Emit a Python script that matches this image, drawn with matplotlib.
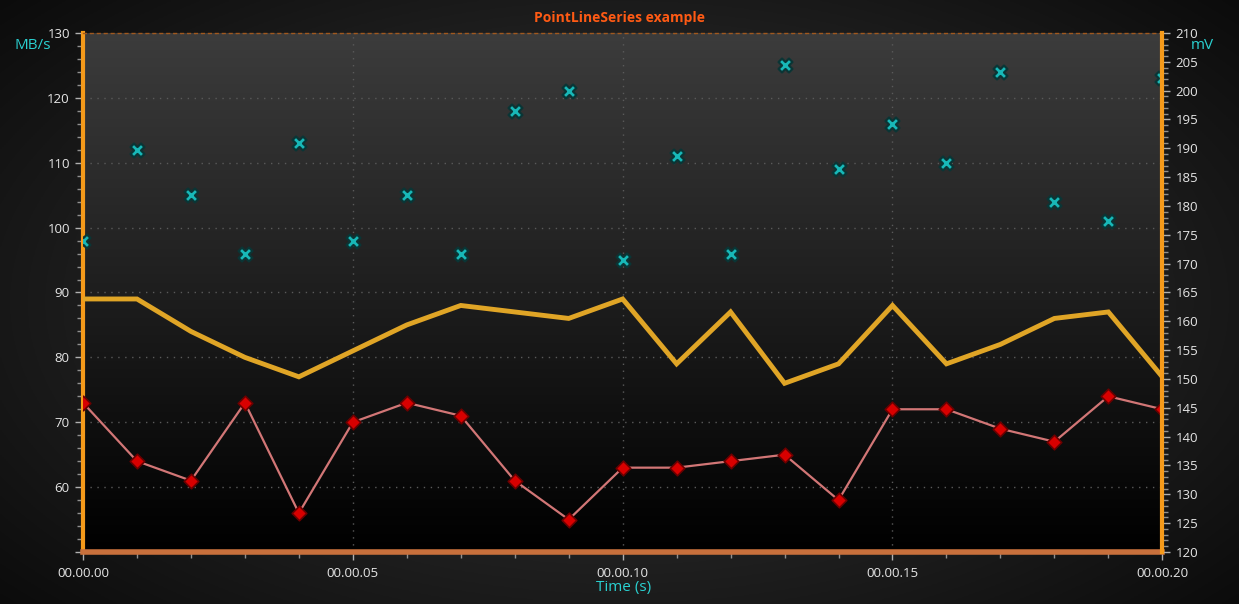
import numpy as np
import matplotlib
matplotlib.use("Agg")
import matplotlib.pyplot as plt
from matplotlib.ticker import MultipleLocator, FuncFormatter

# data (x in seconds, y in MB/s on the left axis)
times = [i / 100 for i in range(21)]
cross_vals = [98, 112, 105, 96, 113, 98, 105, 96, 118, 121, 95, 111, 96, 125, 109, 116, 110, 124, 104, 101, 123]
yellow_vals = [89, 89, 84, 80, 77, 81, 85, 88, 87, 86, 89, 79, 87, 76, 79, 88, 79, 82, 86, 87, 77]
red_vals = [73, 64, 61, 73, 56, 70, 73, 71, 61, 55, 63, 63, 64, 65, 58, 72, 72, 69, 67, 74, 72]

x_range = (0.0, 0.20)
left_range = (50, 130)
right_range = (120, 210)

CYAN = "#2ad0d0"
ORANGE = "#f59a1a"
TXT = "#e6e6e6"

plt.rcParams['font.family'] = ['Open Sans', 'DejaVu Sans']

fig = plt.figure(figsize=(12.39, 6.04), dpi=100)

# radial background for the whole figure
bg = fig.add_axes([0, 0, 1, 1], zorder=-10)
yy, xx = np.mgrid[-1:1:300j, -1:1:600j]
r = np.sqrt(xx ** 2 + (yy * 0.9) ** 2)
shade = 0.03 + 0.20 * np.clip(1 - r / 1.45, 0, 1)
bg.imshow(np.dstack([shade] * 3), aspect="auto", extent=[0, 1, 0, 1])
bg.set_axis_off()

ax = fig.add_axes([0.067, 0.0861, 0.8711, 0.8593])
ax.set_facecolor("none")
grad = np.linspace(0, 0.235, 256).reshape(-1, 1)
ax.imshow(np.dstack([grad] * 3), aspect="auto", extent=[0, 1, 0, 1],
          transform=ax.transAxes, zorder=0, origin="lower")

ax.plot(times, yellow_vals, color="#e0a526", lw=3.5, zorder=3, solid_joinstyle="miter")
ax.plot(times, red_vals, color="#d27676", lw=1.6, zorder=4)
ax.scatter(times, red_vals, marker="D", s=55, color="#d80000", edgecolors="#6a0000", linewidths=1.2, zorder=5)
ax.scatter(times, cross_vals, marker="X", s=100, color="#18b8b8", edgecolors="#0a3535", linewidths=1.6, zorder=5)

ax.set_xlim(*x_range)
ax.set_ylim(*left_range)
ax.xaxis.set_major_locator(MultipleLocator(0.05))
ax.xaxis.set_minor_locator(MultipleLocator(0.01))
ax.yaxis.set_major_locator(MultipleLocator(10))
ax.yaxis.set_minor_locator(MultipleLocator(2))


def time_fmt(v, pos):
    cs = int(round(v * 100))
    return f"{cs // 6000:02d}.{(cs // 100) % 60:02d}.{cs % 100:02d}"


ax.xaxis.set_major_formatter(FuncFormatter(time_fmt))
ax.yaxis.set_major_formatter(FuncFormatter(lambda v, p: "" if v <= left_range[0] else f"{v:.0f}"))

ax.grid(True, which="major", color="#5a5a5a", ls=(0, (1, 4)), lw=1.0)
ax.tick_params(axis="both", which="major", colors="#b0b0b0", labelcolor=TXT, labelsize=9.5, length=6, width=1)
ax.tick_params(axis="both", which="minor", colors="#909090", length=4, width=1)
ax.tick_params(axis="x", pad=5)

ax.spines["left"].set_color(ORANGE)
ax.spines["left"].set_linewidth(3)
ax.spines["bottom"].set_color("#c8703c")
ax.spines["bottom"].set_linewidth(4)
ax.spines["top"].set_color("#a0581e")
ax.spines["top"].set_linestyle((0, (2, 3)))
ax.spines["top"].set_linewidth(1)
ax.spines["right"].set_visible(False)

ax2 = ax.twinx()
ax2.set_ylim(*right_range)
ax2.yaxis.set_major_locator(MultipleLocator(5))
ax2.yaxis.set_minor_locator(MultipleLocator(1))
ax2.tick_params(axis="y", which="major", colors="#b0b0b0", labelcolor=TXT, labelsize=9.5, length=6, width=1)
ax2.tick_params(axis="y", which="minor", colors="#909090", length=4, width=1)
for side in ["left", "top", "bottom"]:
    ax2.spines[side].set_visible(False)
ax2.spines["right"].set_color(ORANGE)
ax2.spines["right"].set_linewidth(3)

fig.text(0.5, 0.971, "PointLineSeries example", color="#ff5a14", fontsize=10, fontweight="bold",
         ha="center", va="center")
fig.text(0.012, 0.925, "MB/s", color=CYAN, fontsize=11, ha="left", va="center")
fig.text(0.98, 0.925, "mV", color=CYAN, fontsize=11, ha="right", va="center")
fig.text(0.5035, 0.027, "Time (s)", color=CYAN, fontsize=11, ha="center", va="center")

fig.savefig("out.png", dpi=100)
